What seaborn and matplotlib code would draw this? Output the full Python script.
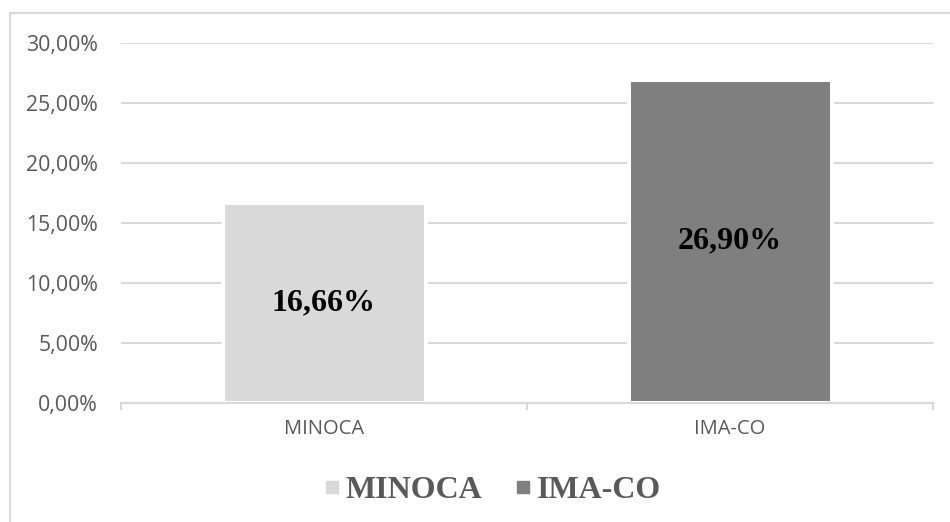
import matplotlib
matplotlib.use("Agg")
import matplotlib.pyplot as plt
from matplotlib.lines import Line2D
from matplotlib.ticker import FixedLocator, FuncFormatter
import seaborn as sns
import pandas as pd

# Data
categories = ["MINOCA", "IMA-CO"]
values = [16.66, 26.90]
colors = ["#d9d9d9", "#7f7f7f"]
yticks = [0, 5, 10, 15, 20, 25, 30]

sns.set_theme(style="white")
plt.rcParams["font.family"] = ["Open Sans", "DejaVu Sans"]

W, H = 950, 522
fig = plt.figure(figsize=(W / 100, H / 100), dpi=100)
ax = fig.add_axes([121 / W, 1 - 402.7 / H, (933 - 121) / W, (402.7 - 42.7) / H])

df = pd.DataFrame({"group": categories, "value": values})
sns.barplot(data=df, x="group", y="value", hue="group", palette=colors,
            order=categories, hue_order=categories, width=0.5,
            edgecolor="white", linewidth=2.9, legend=False, ax=ax)

# Axes styling
ax.set_ylim(0, 30)
ax.set_xlim(-0.5, len(categories) - 0.5)
ax.set_yticks(yticks)
ax.yaxis.set_major_formatter(FuncFormatter(lambda v, p: f"{v:.2f}%".replace(".", ",")))
ax.set_xlabel("")
ax.set_ylabel("")
ax.set_axisbelow(True)
ax.grid(axis="y", color="#d9d9d9", linewidth=1.5)
ax.grid(axis="x", visible=False)
for side in ["left", "right", "top"]:
    ax.spines[side].set_visible(False)
ax.spines["bottom"].set_color("#d9d9d9")
ax.spines["bottom"].set_linewidth(1.5)
ax.spines["bottom"].set_zorder(3)

ax.tick_params(axis="y", length=0, pad=16.5, labelsize=15.3, labelcolor="#595959")
ax.tick_params(axis="x", which="major", length=0, pad=12, labelsize=14.5, labelcolor="#595959")
ax.xaxis.set_minor_locator(FixedLocator([-0.5, 0.5, 1.5]))
ax.tick_params(axis="x", which="minor", length=5, width=1.5, color="#d9d9d9", bottom=True)

# Value labels centred in each bar
for i, v in enumerate(values):
    ax.text(i, v / 2, f"{v:.2f}%".replace(".", ","), ha="center", va="center",
            fontsize=23, fontweight="bold", family=["Liberation Serif"], color="black")

# Legend below the plot
handles = [Line2D([], [], marker="s", linestyle="none", markersize=8.5,
                  markerfacecolor=c, markeredgecolor=c) for c in colors]
leg = fig.legend(handles, categories, loc="center", bbox_to_anchor=(492 / W, 1 - 490 / H),
                 ncol=2, frameon=False, handlelength=0.55, handletextpad=0.15,
                 columnspacing=1.0, prop={"family": "Liberation Serif", "weight": "bold", "size": 23})
for t in leg.get_texts():
    t.set_color("#595959")

# Outer chart frame
fig.add_artist(Line2D([10 / W, 10 / W], [0, 1 - 13 / H], transform=fig.transFigure,
                      color="#d9d9d9", linewidth=1.5))
fig.add_artist(Line2D([10 / W, 1], [1 - 13 / H, 1 - 13 / H], transform=fig.transFigure,
                      color="#d9d9d9", linewidth=1.5))

fig.savefig("out.png", dpi=100)
